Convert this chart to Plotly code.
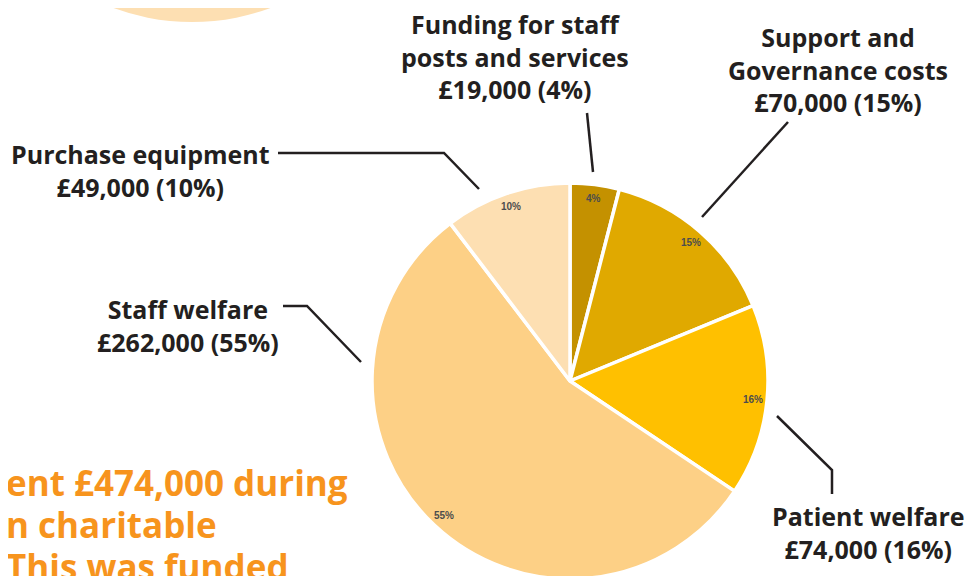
import math
import plotly.graph_objects as go

# spending breakdown, clockwise from 12 o'clock
labels = ['Funding for staff posts and services', 'Support and Governance costs',
          'Patient welfare', 'Staff welfare', 'Purchase equipment']
values = [19000, 70000, 74000, 262000, 49000]
colors = ['#C49100', '#E0A900', '#FFC000', '#FDD086', '#FDDFB2']

# callout texts
calloutText = [
    'Funding for staff<br>posts and services<br>£19,000 (4%)',
    'Support and<br>Governance costs<br>£70,000 (15%)',
    'Patient welfare<br>£74,000 (16%)',
    'Staff welfare<br>£262,000 (55%)',
    'Purchase equipment<br>£49,000 (10%)',
]

introLines = ['ent £474,000 during', 'n charitable', 'This was funded']

W, H = 973, 576
OFF = 8  # page body margin
labelFont = dict(family='Open Sans', size=25, color='#231F20')
lineCol = '#231F20'

# pie geometry (page pixels)
CX, CY, R = 570, 381, 198

def px(x, y):
    # page pixel -> paper coords
    return (x - OFF) / W, 1 - (y - OFF) / H

d0 = px(CX - R, CY + R)
d1 = px(CX + R, CY - R)

fig = go.Figure(go.Pie(
    labels=labels,
    values=values,
    sort=False,
    direction='clockwise',
    rotation=0,
    marker=dict(colors=colors, line=dict(color='white', width=3.5)),
    textinfo='none',
    domain=dict(x=[d0[0], d1[0]], y=[max(d0[1], 0), min(d1[1], 1)]),
    showlegend=False,
    hoverinfo='label+value+percent',
))

# percent labels near the rim of each slice
total = sum(values)
cum = 0
for v in values:
    mid = (cum + v / 2) / total * 2 * math.pi
    cum += v
    lx = CX + 0.93 * R * math.sin(mid)
    ly = CY - 0.93 * R * math.cos(mid)
    x, y = px(lx, ly)
    fig.add_annotation(x=x, y=y, xref='paper', yref='paper',
                       text='<b>%d%%</b>' % round(v / total * 100),
                       showarrow=False, xanchor='center', yanchor='middle',
                       font=dict(family='Liberation Sans', size=10, color='#4D4D4D'))

# callout positions in page pixels (centre x, centre y)
calloutPos = [(515, 57), (838, 70), (868, 532), (188, 325), (140, 170)]
for txt, (cx, cy) in zip(calloutText, calloutPos):
    x, y = px(cx, cy)
    fig.add_annotation(x=x, y=y, xref='paper', yref='paper', text='<b>' + txt + '</b>',
                       showarrow=False, font=labelFont, align='center',
                       xanchor='center', yanchor='middle')

# leader lines
leaders = [
    [(587, 113), (593, 172)],
    [(788, 122), (702, 217)],
    [(777, 416), (832, 470), (832, 494)],
    [(283, 306), (307, 306), (361, 362)],
    [(278, 153), (444, 153), (479, 189)],
]
for pts in leaders:
    path = 'M ' + ' L '.join('%f %f' % px(*p) for p in pts)
    fig.add_shape(type='path', path=path, xref='paper', yref='paper',
                  line=dict(color=lineCol, width=2.5))

# decorative peach circle at top left
a = px(192 - 227, -205 + 227)
b = px(192 + 227, -205 - 227)
fig.add_shape(type='circle', xref='paper', yref='paper',
              x0=a[0], x1=b[0], y0=a[1], y1=b[1],
              fillcolor='#FDDFB2', line=dict(width=0), layer='below')

# orange intro text, cut off at the left edge of the page
for i, t in enumerate(introLines):
    x, y = px(5, 482 + 42 * i)
    fig.add_annotation(x=x, y=y, xref='paper', yref='paper', text='<b>' + t + '</b>',
                       showarrow=False, align='left', xanchor='left', yanchor='middle',
                       borderpad=0,
                       font=dict(family='Open Sans', size=35, color='#F7941D'))

fig.update_layout(
    width=W, height=H,
    margin=dict(l=0, r=0, t=0, b=0),
    paper_bgcolor='white',
    plot_bgcolor='white',
)

fig.write_html('out.html')
